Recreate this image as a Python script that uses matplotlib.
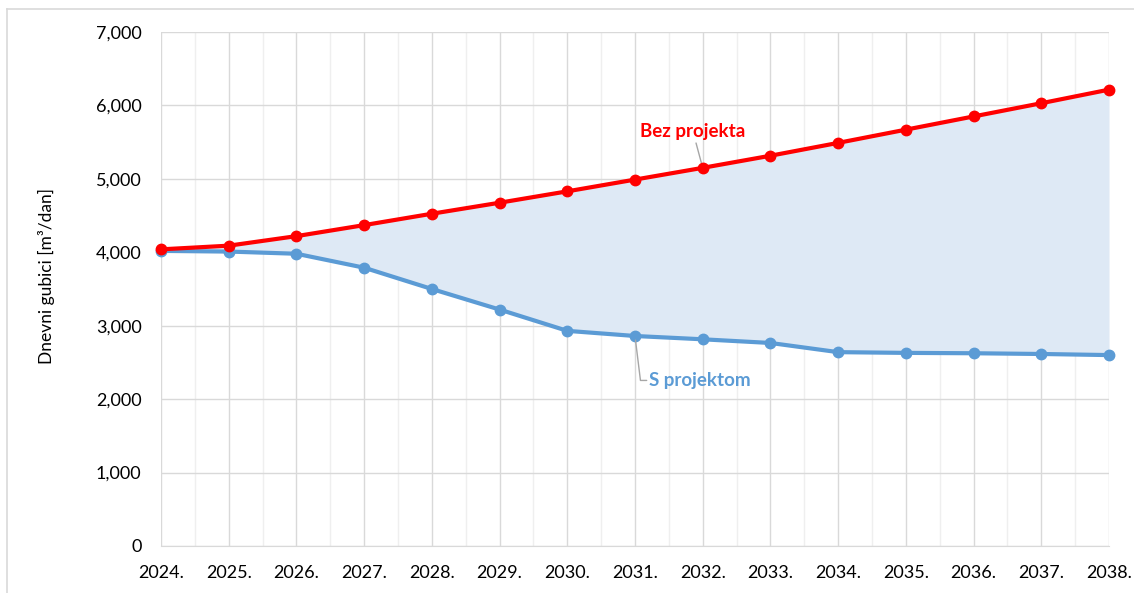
import numpy as np
import matplotlib.pyplot as plt
from matplotlib.ticker import MultipleLocator, FuncFormatter

plt.rcParams['font.family'] = ['Lato', 'DejaVu Sans']

years = list(range(2024, 2039))
year_labels = [f'{y}.' for y in years]
bez_projekta = [4040, 4090, 4220, 4370, 4525, 4675, 4830, 4990, 5150, 5315,
                5490, 5670, 5850, 6030, 6215]
s_projektom = [4020, 4010, 3980, 3790, 3500, 3220, 2930, 2860, 2815, 2765,
               2640, 2630, 2625, 2615, 2600]

red = '#FF0000'
blue = '#5B9BD5'
fill_col = '#DEE9F5'

fig = plt.figure(figsize=(11.34, 5.93), dpi=100)
ax = fig.add_axes([161 / 1134, 1 - 546 / 593, (1109 - 161) / 1134, (546 - 32) / 593])

ax.fill_between(years, s_projektom, bez_projekta, color=fill_col, lw=0, zorder=1)
ax.plot(years, bez_projekta, color=red, lw=3, marker='o', ms=7.5, clip_on=False, zorder=4)
ax.plot(years, s_projektom, color=blue, lw=3, marker='o', ms=7.5, clip_on=False, zorder=3)

ax.set_xlim(years[0], years[-1])
ax.set_ylim(0, 7000)
ax.set_xticks(years)
ax.set_xticklabels(year_labels)
ax.xaxis.set_minor_locator(MultipleLocator(0.5))
ax.yaxis.set_major_locator(MultipleLocator(1000))
ax.yaxis.set_major_formatter(FuncFormatter(lambda v, p: f'{int(v):,}'))

ax.grid(True, which='major', color='#D9D9D9', lw=1.0, zorder=0)
ax.grid(True, which='minor', axis='x', color='#EFEFEF', lw=1.0, zorder=0)
ax.set_axisbelow(True)
for s in ['top', 'right', 'left']:
    ax.spines[s].set_visible(False)
ax.spines['bottom'].set_color('#D9D9D9')
ax.tick_params(which='both', length=0)
ax.tick_params(axis='x', labelsize=13, pad=14, colors='#000000')
ax.tick_params(axis='y', labelsize=13, pad=14, colors='#000000')

ax.set_ylabel('Dnevni gubici [m³/dan]', fontsize=12.5)
ax.yaxis.set_label_coords(-0.112, 0.525)

ax.annotate('Bez projekta', xy=(years[8], bez_projekta[8]), xytext=(-7, 26),
            textcoords='offset points', ha='center', va='center',
            fontsize=13.5, fontweight='bold', color=red,
            arrowprops=dict(arrowstyle='-', color='#A6A6A6', lw=1.0,
                            shrinkA=0, shrinkB=3))
ax.annotate('S projektom', xy=(years[7], s_projektom[7]), xytext=(47, -32),
            textcoords='offset points', ha='center', va='center',
            fontsize=13.5, fontweight='bold', color=blue,
            arrowprops=dict(arrowstyle='-', color='#A6A6A6', lw=1.0,
                            shrinkA=0, shrinkB=3,
                            connectionstyle='angle,angleA=0,angleB=97,rad=0'))

# outer frame (top and left edge visible)
fig.add_artist(plt.Line2D([7 / 1134, 7 / 1134], [0, 1 - 9 / 593], color='#D9D9D9', lw=1.2))
fig.add_artist(plt.Line2D([7 / 1134, 1], [1 - 9 / 593, 1 - 9 / 593], color='#D9D9D9', lw=1.2))

fig.savefig('out.png', dpi=100)
